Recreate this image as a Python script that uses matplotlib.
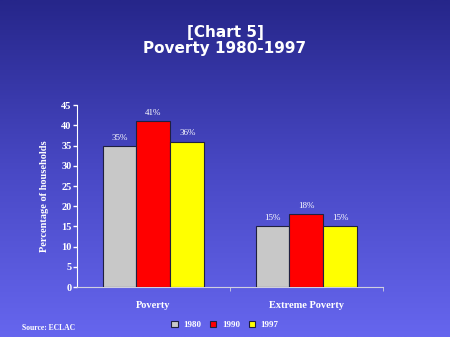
import numpy as np
import matplotlib
matplotlib.use("Agg")
import matplotlib.pyplot as plt
from matplotlib.colors import LinearSegmentedColormap

categories = ["Poverty", "Extreme Poverty"]
years = ["1980", "1990", "1997"]
values_1980 = [35, 15]
values_1990 = [41, 18]
values_1997 = [36, 15]
bar_colors = ["#c8c8c8", "#ff0000", "#ffff00"]

serif = "Liberation Serif"

fig = plt.figure(figsize=(4.5, 3.37), dpi=100)

# gradient background
bg = fig.add_axes([0, 0, 1, 1], zorder=-10)
cmap = LinearSegmentedColormap.from_list("bg", ["#26268a", "#4848c4", "#6666ee"])
grad = np.linspace(0, 1, 256).reshape(-1, 1)
bg.imshow(grad, aspect="auto", cmap=cmap, extent=[0, 1, 0, 1], origin="upper")
bg.set_axis_off()

fig.text(0.5, 0.905, "[Chart 5]", ha="center", va="center", color="white",
         fontsize=11, fontweight="bold", family="DejaVu Sans")
fig.text(0.5, 0.855, "Poverty 1980-1997", ha="center", va="center", color="white",
         fontsize=11, fontweight="bold", family="DejaVu Sans")

ax = fig.add_axes([0.171, 0.148, 0.680, 0.540])
ax.set_facecolor("none")

x = np.arange(len(categories))
width = 0.222
series = [values_1980, values_1990, values_1997]
for i, (vals, col) in enumerate(zip(series, bar_colors)):
    bars = ax.bar(x + (i - 1) * width, vals, width, color=col,
                  edgecolor="#202040", linewidth=0.8, label=years[i], zorder=3)
    for b, v in zip(bars, vals):
        ax.text(b.get_x() + b.get_width() / 2, v + 1.0, f"{v}%", ha="center",
                va="bottom", color="white", fontsize=6.5, family=serif)

ax.set_xlim(-0.5, 1.5)
ax.set_ylim(0, 45)
ax.set_yticks(range(0, 46, 5))
ax.set_xticks(x)
ax.set_xticklabels(categories)
ax.set_xticks([0.5, 1.5], minor=True)
ax.tick_params(axis="x", which="major", length=0, pad=10)
ax.tick_params(axis="x", which="minor", length=3, color="#d0d0e0", direction="out")
ax.tick_params(axis="y", length=3, color="white", width=1, pad=1)
for lab in ax.get_xticklabels() + ax.get_yticklabels():
    lab.set_color("white")
    lab.set_family(serif)
    lab.set_fontweight("bold")
    lab.set_fontsize(7.5)
for s in ["top", "right"]:
    ax.spines[s].set_visible(False)
ax.spines["left"].set_color("white")
ax.spines["bottom"].set_color("#d0d0e0")

ax.set_ylabel("Percentage of households", color="white", family=serif,
              fontweight="bold", fontsize=7.5, labelpad=9)

leg = fig.legend(loc="center", bbox_to_anchor=(0.5, 0.035), ncol=3, frameon=False,
                 handlelength=0.7, handleheight=0.7, handletextpad=0.6,
                 columnspacing=1.0, prop={"family": serif, "weight": "bold", "size": 6.5})
for t in leg.get_texts():
    t.set_color("white")

fig.text(0.05, 0.027, "Source: ECLAC", color="white", family=serif,
         fontweight="bold", fontsize=5.5, ha="left", va="center")

fig.savefig("out.png", dpi=100)
